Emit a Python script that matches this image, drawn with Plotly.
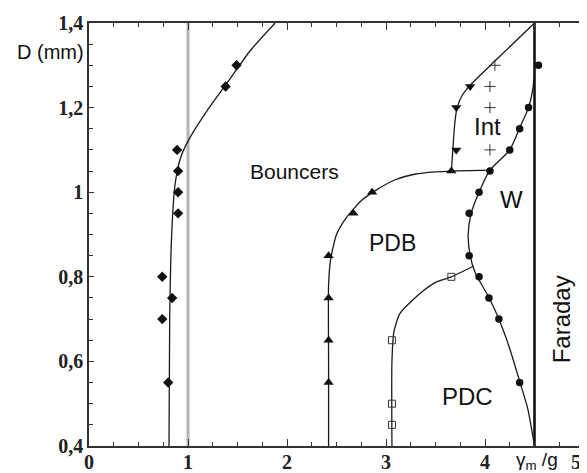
import plotly.graph_objects as go

# ---- Data ----
# measured points
diamond_x = [0.89, 0.90, 0.90, 0.90, 0.74, 0.84, 0.74, 0.80, 1.38, 1.49]
diamond_y = [1.10, 1.05, 1.00, 0.95, 0.80, 0.75, 0.70, 0.55, 1.25, 1.30]

tri_up_x = [2.42, 2.42, 2.42, 2.42, 2.67, 2.86, 3.66]
tri_up_y = [0.55, 0.65, 0.75, 0.85, 0.95, 1.00, 1.05]

tri_down_x = [3.71, 3.71, 3.85]
tri_down_y = [1.10, 1.20, 1.25]

plus_x = [4.05, 4.05, 4.05, 4.10]
plus_y = [1.10, 1.20, 1.25, 1.30]

circle_x = [4.54, 4.44, 4.35, 4.25, 4.05, 3.94, 3.84, 3.84, 3.94, 4.04, 4.14, 4.35]
circle_y = [1.30, 1.20, 1.15, 1.10, 1.05, 1.00, 0.95, 0.85, 0.80, 0.75, 0.70, 0.55]

square_x = [3.06, 3.06, 3.06, 3.66]
square_y = [0.45, 0.50, 0.65, 0.80]

# boundary curves (guides to the eye)
bouncer_cx = [0.808, 0.815, 0.835, 0.87, 0.93, 1.01, 1.20, 1.40, 1.63, 1.88]
bouncer_cy = [0.40, 0.70, 0.90, 1.02, 1.085, 1.125, 1.195, 1.26, 1.335, 1.40]

pdb_cx = [2.42, 2.42, 2.42, 2.44, 2.50, 2.60, 2.75, 2.90, 3.10, 3.30, 3.50, 3.66, 4.05]
pdb_cy = [0.40, 0.60, 0.78, 0.84, 0.90, 0.94, 0.98, 1.005, 1.03, 1.043, 1.048, 1.05, 1.052]

int_cx = [3.66, 3.675, 3.69, 3.71, 3.76, 3.85, 4.10, 4.50]
int_cy = [1.05, 1.10, 1.15, 1.19, 1.225, 1.253, 1.31, 1.40]

w_cx = [4.50, 4.48, 4.44, 4.35, 4.25, 4.05, 3.94, 3.86, 3.83, 3.85, 3.90, 4.04, 4.14, 4.25, 4.35, 4.43, 4.50]
w_cy = [1.28, 1.24, 1.20, 1.152, 1.10, 1.052, 1.00, 0.95, 0.90, 0.85, 0.81, 0.751, 0.70, 0.63, 0.553, 0.49, 0.40]

pdc_cx = [3.06, 3.06, 3.08, 3.14, 3.34, 3.50, 3.66, 3.88]
pdc_cy = [0.40, 0.60, 0.67, 0.713, 0.76, 0.787, 0.80, 0.825]

gray_x = [1.0, 1.0]
gray_y = [0.4, 1.4]
faraday_x = [4.5, 4.5]
faraday_y = [0.4, 1.4]

x_tickvals = [0, 1, 2, 3, 4, 5]
x_ticktext = ["0", "1", "2", "3", "4", "5"]
y_tickvals = [0.4, 0.6, 0.8, 1.0, 1.2, 1.4]
y_ticktext = ["0,4", "0,6", "0,8", "1", "1,2", "1,4"]

region_labels = ["Bouncers", "PDB", "PDC", "Int", "W"]
region_x = [2.08, 3.07, 3.82, 4.03, 4.27]
region_y = [1.048, 0.88, 0.518, 1.156, 0.983]
region_size = [21, 23, 24, 24, 24]

fig = go.Figure()

# reference lines
fig.add_trace(go.Scatter(x=gray_x, y=gray_y, mode="lines",
                         line=dict(color="#b4b4b4", width=3), showlegend=False))
fig.add_trace(go.Scatter(x=faraday_x, y=faraday_y, mode="lines",
                         line=dict(color="#111111", width=2.6), showlegend=False))

curve_line = dict(color="#1a1a1a", width=1.3, shape="spline", smoothing=0.6)
for cx, cy in [(bouncer_cx, bouncer_cy), (pdb_cx, pdb_cy), (int_cx, int_cy),
               (w_cx, w_cy), (pdc_cx, pdc_cy)]:
    fig.add_trace(go.Scatter(x=cx, y=cy, mode="lines", line=curve_line, showlegend=False))

fig.add_trace(go.Scatter(x=diamond_x, y=diamond_y, mode="markers",
                         marker=dict(symbol="diamond", size=8, color="#111111"), showlegend=False))
fig.add_trace(go.Scatter(x=tri_up_x, y=tri_up_y, mode="markers",
                         marker=dict(symbol="triangle-up", size=9, color="#111111"), showlegend=False))
fig.add_trace(go.Scatter(x=tri_down_x, y=tri_down_y, mode="markers",
                         marker=dict(symbol="triangle-down", size=9, color="#111111"), showlegend=False))
fig.add_trace(go.Scatter(x=plus_x, y=plus_y, mode="markers",
                         marker=dict(symbol="cross-thin", size=8, color="#333333",
                                     line=dict(width=1, color="#333333")), showlegend=False))
fig.add_trace(go.Scatter(x=circle_x, y=circle_y, mode="markers",
                         marker=dict(symbol="circle", size=7.5, color="#111111"), showlegend=False))
fig.add_trace(go.Scatter(x=square_x, y=square_y, mode="markers",
                         marker=dict(symbol="square-open", size=7, color="#333333",
                                     line=dict(width=1, color="#333333")), showlegend=False))

for t, x, y, s in zip(region_labels, region_x, region_y, region_size):
    fig.add_annotation(x=x, y=y, text=t, showarrow=False,
                       font=dict(family="Liberation Sans", size=s, color="#111111"))

fig.add_annotation(x=4.77, y=0.70, text="Faraday", textangle=-90, showarrow=False,
                   font=dict(family="Liberation Sans", size=24, color="#111111"))
fig.add_annotation(x=0.0, xref="paper", xanchor="right", xshift=-3, y=1.331, text="D (mm)",
                   showarrow=False, font=dict(family="Liberation Sans", size=20, color="#111111"))
fig.add_annotation(x=4.53, y=0, yref="paper", yanchor="top", yshift=-1,
                   text="γ<sub>m</sub> /g", showarrow=False,
                   font=dict(family="Liberation Sans", size=19, color="#111111"))

tickfont = dict(family="Liberation Serif", size=20, color="#222222", weight="bold")

# the last x tick label sits at the right edge; draw it right-aligned so it stays visible
fig.add_annotation(x=x_tickvals[-1], y=0, yref="paper", xanchor="right", yanchor="top",
                   xshift=-1, yshift=-3, text=x_ticktext[-1], showarrow=False,
                   font=tickfont)
x_ticktext_shown = x_ticktext[:-1] + [""]

fig.update_xaxes(range=[0, 5], tickmode="array", tickvals=x_tickvals, ticktext=x_ticktext_shown,
                 ticks="inside", ticklen=7, tickwidth=1.2, tickcolor="#333333",
                 showline=True, linecolor="#333333", linewidth=1.5, mirror="ticks",
                 showgrid=False, zeroline=False, tickfont=tickfont, automargin=False,
                 ticklabelstandoff=-3,
                 minor=dict(tickmode="linear", tick0=0, dtick=0.25, ticks="inside",
                            ticklen=4, tickwidth=1, tickcolor="#333333", showgrid=False))
fig.update_yaxes(range=[0.4, 1.4], tickmode="array", tickvals=y_tickvals, ticktext=y_ticktext,
                 ticks="inside", ticklen=5, tickwidth=1.2, tickcolor="#333333",
                 showline=True, linecolor="#333333", linewidth=1.5, mirror="ticks",
                 showgrid=False, zeroline=False, tickfont=tickfont, automargin=False,
                 minor=dict(tickmode="linear", tick0=0.4, dtick=0.05, ticks="inside",
                            ticklen=4, tickwidth=1, tickcolor="#333333", showgrid=False))

# page body has an 8px default margin, so the figure is 8px smaller on each axis
fig.update_layout(width=579, height=465, margin=dict(l=81, r=3, t=15, b=27),
                  plot_bgcolor="white", paper_bgcolor="white", showlegend=False)

fig.write_html("out.html")
